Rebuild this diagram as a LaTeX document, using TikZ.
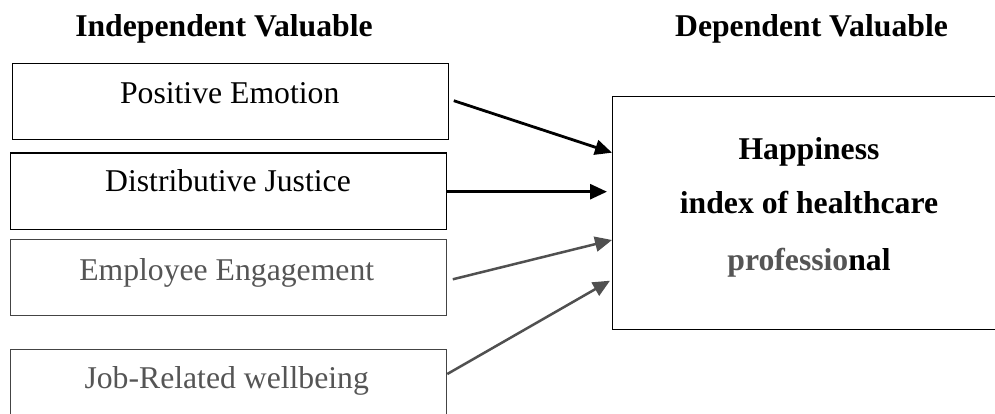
\documentclass[tikz,border=0pt]{standalone}
\usepackage{fontspec}
\setmainfont{Liberation Serif}
\usetikzlibrary{arrows.meta,calc}

\definecolor{inkgray}{HTML}{555555}
\definecolor{linegray}{HTML}{444444}
\definecolor{arrowgray}{HTML}{505050}

\tikzset{
  varbox/.style={draw, line width=1.3pt, inner sep=0pt, anchor=north west,
                 minimum width=#1, minimum height=76pt},
  varbox/.default=435.5pt,
  boxtext/.style={anchor=base, inner sep=0pt, font=\fontsize{31.7}{38}\selectfont},
  headtext/.style={anchor=base, inner sep=0pt, font=\fontsize{31.7}{38}\selectfont\bfseries},
  link/.style={line width=2.8pt, -{Triangle[length=17pt,width=15pt]}},
}

\begin{document}
\begin{tikzpicture}[x=1pt,y=-1pt]
  \useasboundingbox (0,0) rectangle (995,414);
  \clip (0,0) rectangle (995,414);
  \fill[white] (0,0) rectangle (995,414);

  % column headings
  \node[headtext] (hin)  at (224,37)   {Independent Valuable};
  \node[headtext] (hdep) at (811.5,37) {Dependent Valuable};

  % independent variables
  \node[varbox] (b1) at (12,63) {};
  \node[boxtext] (t1) at (229.7,104) {Positive Emotion};

  \node[varbox=436pt] (b2) at (10,152.5) {};
  \node[boxtext] (t2) at (228,192) {Distributive Justice};

  \node[varbox, draw=linegray] (b3) at (10,239) {};
  \node[boxtext, text=inkgray] (t3) at (226.7,280.5) {Employee Engagement};

  \node[varbox=436pt, draw=linegray] (b4) at (10,348.5) {};
  \node[boxtext, text=inkgray] (t4) at (226.7,388) {Job-Related wellbeing};

  % dependent variable
  \node[draw, line width=1.3pt, inner sep=0pt, anchor=north west,
        minimum width=394pt, minimum height=232.5pt] (hb) at (612,96) {};
  \node[headtext] (h1) at (809,159.3) {Happiness};
  \node[headtext] (h2) at (809,213.3) {index of healthcare};
  \node[headtext] (h3) at (809,270) {{\color{inkgray}professio}nal};

  % connector end points
  \coordinate (s1) at ($(b1.north east)+(5,37.7)$);
  \coordinate (e1) at ($(hb.north west)+(0,56.7)$);
  \coordinate (s2) at ($(b2.north east)+(0,39.2)$);
  \coordinate (e2) at ($(hb.north west)+(-5,95.7)$);
  \coordinate (s3) at ($(b3.north east)+(6,40.3)$);
  \coordinate (e3) at ($(hb.north west)+(0,144)$);
  \coordinate (s4) at ($(b4.north east)+(0,25.5)$);
  \coordinate (e4) at ($(hb.north west)+(-2,184.7)$);

  % connectors
  \draw[link] (s1) -- (e1);
  \draw[link] (s2) -- (e2);
  \draw[link, draw=arrowgray, fill=arrowgray, line width=2.5pt] (s3) -- (e3);
  \draw[link, draw=arrowgray, fill=arrowgray, line width=2.5pt] (s4) -- (e4);
\end{tikzpicture}
\end{document}
